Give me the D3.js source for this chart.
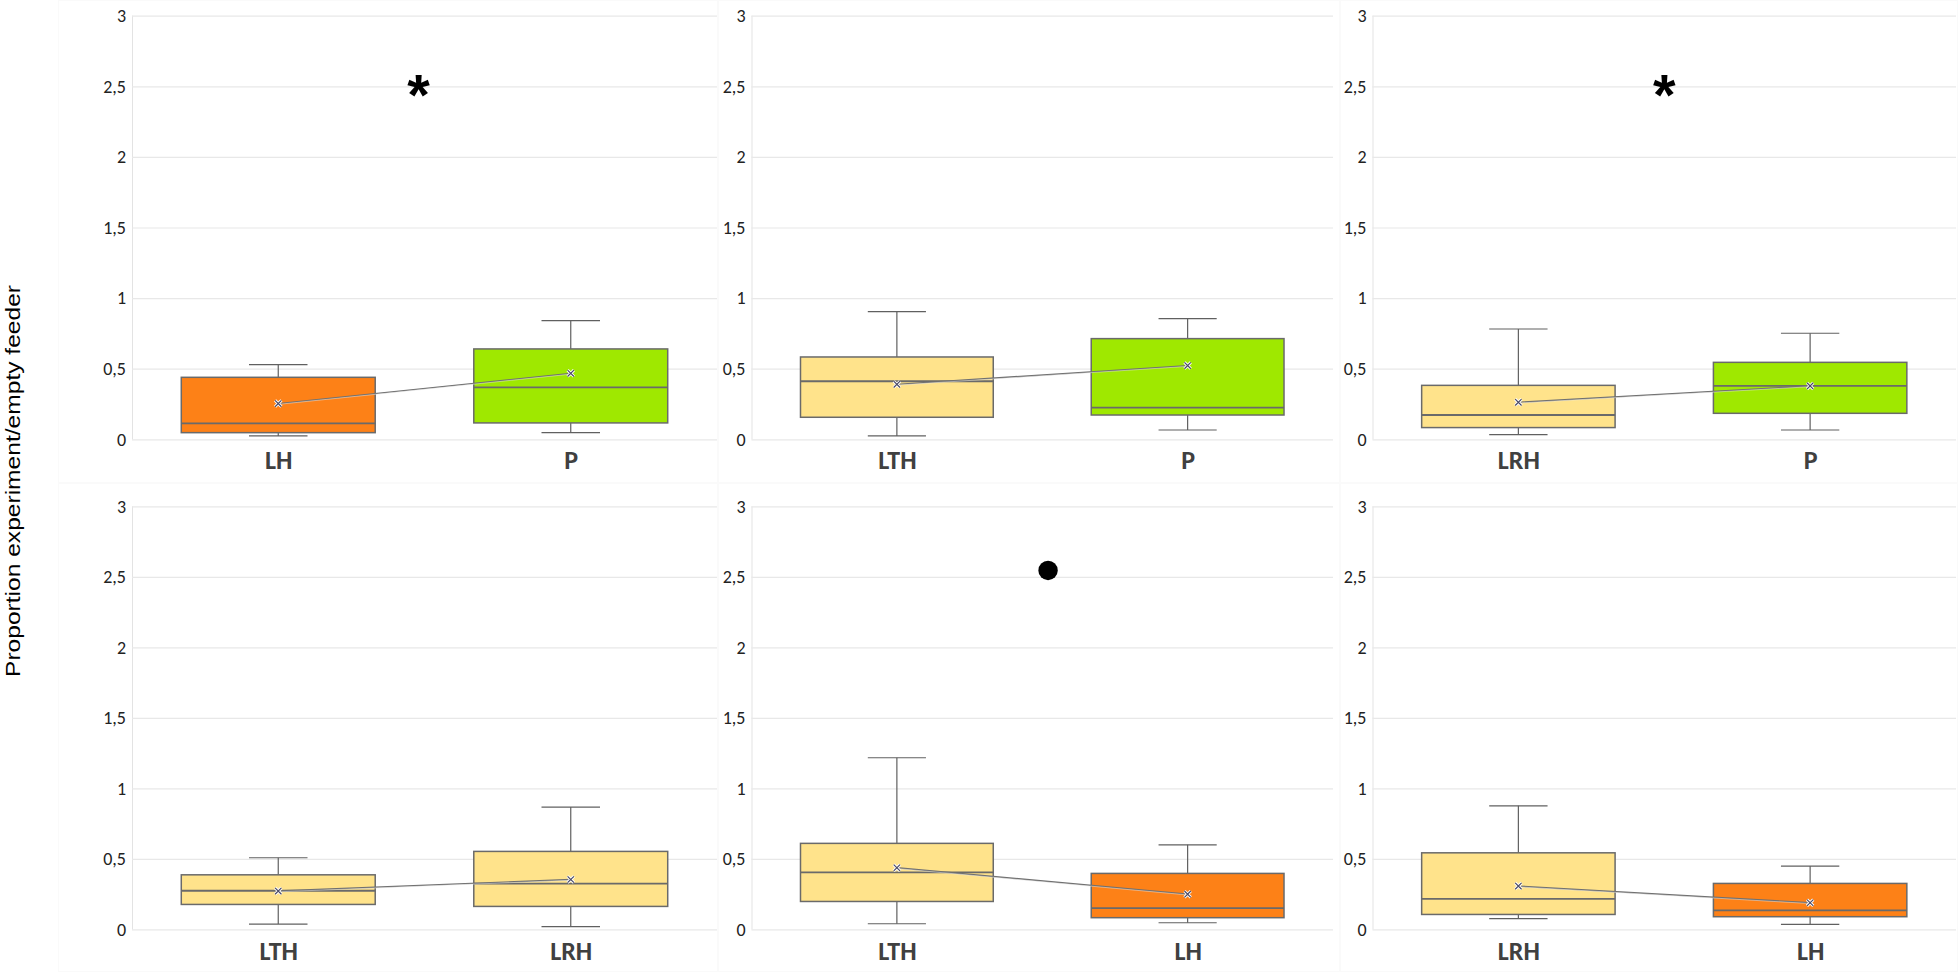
<!DOCTYPE html>
<html>
<head>
<meta charset="utf-8">
<script src="https://cdn.jsdelivr.net/npm/d3@7"></script>
<style>
  html, body { margin: 0; padding: 0; background: #ffffff; }
  svg { display: block; }
</style>
</head>
<body>
<svg id="chart" width="1958" height="972"></svg>
<script>
// ---------- data ----------
const panelCategories = [["LH", "P"], ["LTH", "P"], ["LRH", "P"], ["LTH", "LRH"], ["LTH", "LH"], ["LRH", "LH"]];
const whiskerLow  = [[0.024, 0.047], [0.024, 0.066], [0.033, 0.066], [0.038, 0.019], [0.040, 0.047], [0.076, 0.035]];
const quartile1   = [[0.047, 0.116], [0.156, 0.172], [0.083, 0.184], [0.177, 0.163], [0.198, 0.083], [0.106, 0.090]];
const medians     = [[0.113, 0.368], [0.411, 0.224], [0.172, 0.378], [0.274, 0.324], [0.404, 0.151], [0.217, 0.135]];
const quartile3   = [[0.439, 0.640], [0.583, 0.713], [0.382, 0.545], [0.387, 0.553], [0.610, 0.397], [0.543, 0.326]];
const whiskerHigh = [[0.529, 0.840], [0.904, 0.854], [0.781, 0.751], [0.508, 0.867], [1.217, 0.600], [0.876, 0.449]];
const means       = [[0.253, 0.467], [0.389, 0.522], [0.262, 0.378], [0.272, 0.354], [0.437, 0.250], [0.307, 0.189]];
const yTickValues = [0, 0.5, 1, 1.5, 2, 2.5, 3];
const yTickLabels = ["0", "0,5", "1", "1,5", "2", "2,5", "3"];
const categoryColors = { LH: "#FD8117", P: "#9FE800", LTH: "#FFE38B", LRH: "#FFE38B" };
// significance marks: panel index, mark type, position between the two boxes (0..1), value
const annotationPanels = [0, 2, 4];
const annotationMarks  = ["asterisk", "asterisk", "dot"];
const annotationPos    = [0.48, 0.5, 0.52];
const annotationValues = [2.53, 2.53, 2.545];
const yTitle = "Proportion experiment/empty feeder";

// ---------- layout ----------
const colRanges = [[132, 717], [751.5, 1333], [1372.5, 1956]];
const rowRanges = [[439.3, 15.7], [929.4, 506.3]];
const chartAreas = [[[58, 0, 660, 483], [718, 0, 622, 483], [1340, 0, 618, 483]],
                    [[58, 483, 660, 489], [718, 483, 622, 489], [1340, 483, 618, 489]]];

const svg = d3.select("#chart");
const tickFont = "'Liberation Sans Narrow', 'Carlito', Lato, sans-serif";

panelCategories.forEach((cats, p) => {
  const row = Math.floor(p / 3), col = p % 3;
  const ca = chartAreas[row][col];
  svg.append("rect").attr("x", ca[0] + 0.5).attr("y", ca[1] + 0.5)
    .attr("width", ca[2] - 1).attr("height", ca[3] - 1)
    .attr("fill", "none").attr("stroke", "#fafafa").attr("stroke-width", 1);

  const x = d3.scalePoint().domain(cats).range(colRanges[col]).padding(0.5);
  const y = d3.scaleLinear().domain([0, 3]).range(rowRanges[row]);
  const step = x.step();
  const boxW = step * 0.663;
  const capW = step * 0.2;
  const g = svg.append("g");

  // gridlines + y axis
  const yAxis = d3.axisLeft(y).tickValues(yTickValues)
    .tickFormat((d, i) => yTickLabels[i])
    .tickSize(-(colRanges[col][1] - colRanges[col][0])).tickPadding(6);
  const ya = g.append("g").attr("transform", `translate(${colRanges[col][0]},0)`).call(yAxis);
  ya.select(".domain").attr("stroke", "#e3e3e3").attr("d", `M0.5,${y(3)}V${y(0)}`);
  ya.selectAll(".tick line").attr("stroke", "#e8e8e8").attr("stroke-width", 1.2);
  ya.selectAll(".tick text").attr("fill", "#222").style("font-family", tickFont).style("font-size", "18px");

  // x axis labels
  const xAxis = d3.axisBottom(x).tickSize(0).tickPadding(13);
  const xa = g.append("g").attr("transform", `translate(0,${y(0)})`).call(xAxis);
  xa.select(".domain").remove();
  xa.selectAll(".tick text").attr("fill", "#404040")
    .style("font-family", tickFont).style("font-size", "26px").style("font-weight", "bold")
    .attr("dy", "0.66em");

  cats.forEach((c, i) => {
    const cx = x(c);
    // whiskers
    g.append("line").attr("x1", cx).attr("x2", cx)
      .attr("y1", y(whiskerHigh[p][i])).attr("y2", y(quartile3[p][i]))
      .attr("stroke", "#606060").attr("stroke-width", 1.2);
    g.append("line").attr("x1", cx).attr("x2", cx)
      .attr("y1", y(quartile1[p][i])).attr("y2", y(whiskerLow[p][i]))
      .attr("stroke", "#606060").attr("stroke-width", 1.2);
    [whiskerHigh[p][i], whiskerLow[p][i]].forEach(v => {
      g.append("line").attr("x1", cx - capW / 2).attr("x2", cx + capW / 2)
        .attr("y1", y(v)).attr("y2", y(v))
        .attr("stroke", "#606060").attr("stroke-width", 1.2);
    });
    // box
    g.append("rect").attr("x", cx - boxW / 2).attr("y", y(quartile3[p][i]))
      .attr("width", boxW).attr("height", y(quartile1[p][i]) - y(quartile3[p][i]))
      .attr("fill", categoryColors[c]).attr("stroke", "#6a6a6a").attr("stroke-width", 1.5);
    // median
    g.append("line").attr("x1", cx - boxW / 2).attr("x2", cx + boxW / 2)
      .attr("y1", y(medians[p][i])).attr("y2", y(medians[p][i]))
      .attr("stroke", "#6a6a6a").attr("stroke-width", 1.8);
  });

  // mean line
  const line = d3.line().x((d, i) => x(cats[i])).y(d => y(d));
  g.append("path").datum(means[p]).attr("d", line)
    .attr("fill", "none").attr("stroke", "#707070").attr("stroke-width", 1.4);
  g.append("path").datum(means[p]).attr("d", line)
    .attr("fill", "none").attr("stroke", "#e8e8e8").attr("stroke-width", 0.5)
    .attr("transform", "translate(0,0.8)");
  // mean markers
  const sym = d3.symbol().type(d3.symbolTimes).size(28);
  means[p].forEach((m, i) => {
    g.append("path").attr("d", sym).attr("transform", `translate(${x(cats[i])},${y(m)})`)
      .attr("fill", "none").attr("stroke", "#ffffff").attr("stroke-width", 3);
    g.append("path").attr("d", sym).attr("transform", `translate(${x(cats[i])},${y(m)})`)
      .attr("fill", "none").attr("stroke", "#4a4a66").attr("stroke-width", 1.2);
  });

  // annotations
  annotationPanels.forEach((ap, k) => {
    if (ap !== p) return;
    const ax = x(cats[0]) + annotationPos[k] * (x(cats[1]) - x(cats[0]));
    const ay = y(annotationValues[k]);
    if (annotationMarks[k] === "dot") {
      g.append("circle").attr("cx", ax).attr("cy", ay).attr("r", 9.7).attr("fill", "#000");
    } else {
      g.append("text").attr("x", ax).attr("y", ay).attr("dy", "0.56em")
        .attr("text-anchor", "middle").style("font-family", "'Liberation Sans', Arial, sans-serif")
        .style("font-weight", "bold").style("font-size", "58px").attr("fill", "#000").text("*");
    }
  });
});

// y-axis title
svg.append("text")
  .attr("transform", "translate(12,481) rotate(-90)")
  .attr("text-anchor", "middle").attr("dominant-baseline", "central")
  .attr("textLength", 392).attr("lengthAdjust", "spacingAndGlyphs")
  .style("font-family", "'Liberation Sans', Arial, sans-serif").style("font-size", "21px")
  .attr("fill", "#000").text(yTitle);
</script>
</body>
</html>
